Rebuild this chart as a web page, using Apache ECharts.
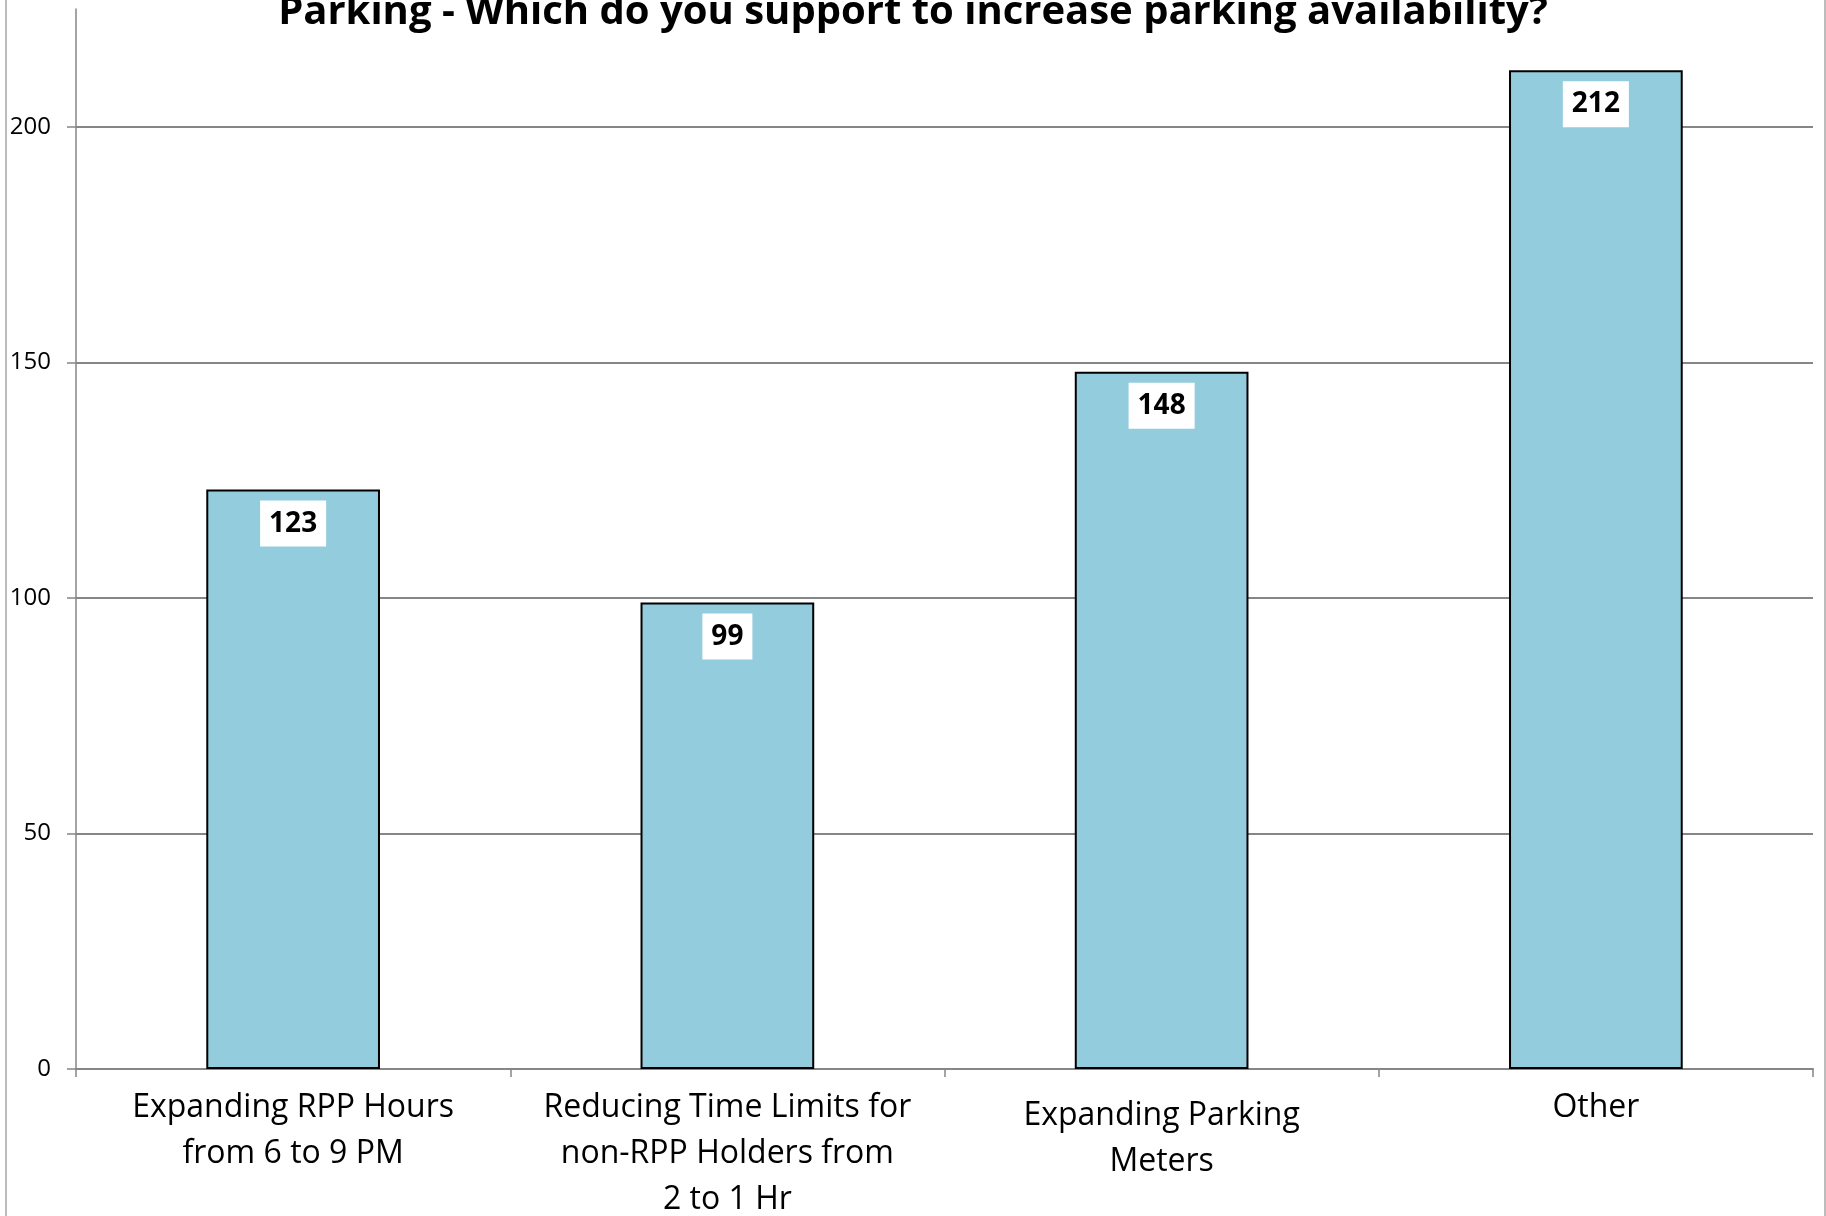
<!DOCTYPE html>
<html>
<head>
<meta charset="utf-8">
<title>Parking</title>
<script src="https://cdn.jsdelivr.net/npm/echarts@6/dist/echarts.min.js"></script>
<style>
    html, body { margin: 0; padding: 0; background: #fff; }
    #chart { width: 1826px; height: 1216px; }
</style>
</head>
<body>
<div id="chart"></div>
<script>
var chartTitle = 'Parking - Which do you support to increase parking availability?';
var categories = [
    'Expanding RPP Hours\nfrom 6 to 9 PM',
    'Reducing Time Limits for\nnon-RPP Holders from\n2 to 1 Hr',
    'Expanding Parking\nMeters',
    'Other'
];
var votes = [123, 99, 148, 212];
var yTicks = [0, 50, 100, 150, 200];

var chart = echarts.init(document.getElementById('chart'));

// the two-line "Expanding Parking" label sits a little lower in the original
var categoryData = categories.map(function(name, i) {
    if (i == 2) {
        return { value: name, textStyle: { padding: [8, 0, 0, 0] } };
    }
    return name;
});

var option = {
    backgroundColor: '#fff',
    animation: false,
    textStyle: { fontFamily: 'Open Sans' },
    title: {
        text: chartTitle,
        left: 'center',
        top: -12,
        textStyle: { fontFamily: 'Open Sans', fontWeight: 'bold', fontSize: 40, color: '#000' }
    },
    // thin frame round the chart area, only the sides are in view
    graphic: [{
        type: 'rect',
        shape: { x: 6, y: -20, width: 1819, height: 1260 },
        style: { fill: 'none', stroke: '#a6a6a6', lineWidth: 1.5 },
        silent: true
    }],
    grid: { left: 76, right: 13, top: 9, bottom: 147, outerBoundsMode: 'none', containLabel: false },
    xAxis: {
        type: 'category',
        data: categoryData,
        axisLine: { lineStyle: { color: '#868686', width: 2 } },
        axisTick: { show: true, length: 8, lineStyle: { color: '#868686', width: 1.5 } },
        axisLabel: {
            interval: 0,
            margin: 16,
            fontFamily: 'Open Sans',
            fontSize: 32,
            lineHeight: 46,
            color: '#000'
        }
    },
    yAxis: {
        type: 'value',
        min: 0,
        max: 225,
        interval: 50,
        axisLine: { show: true, lineStyle: { color: '#868686', width: 1.5 } },
        axisTick: { show: true, length: 9, customValues: yTicks, lineStyle: { color: '#868686', width: 1.5 } },
        axisLabel: {
            customValues: yTicks,
            margin: 25,
            fontFamily: 'Open Sans',
            fontSize: 24,
            color: '#000'
        },
        splitLine: {
            show: true,
            lineStyle: { color: ['#868686', '#868686', '#868686', '#868686', '#868686', 'transparent'], width: 2 }
        }
    },
    series: [{
        type: 'bar',
        data: votes,
        barWidth: '40%',
        itemStyle: { color: '#93CDDD', borderColor: '#000', borderWidth: 2 },
        label: {
            show: true,
            position: 'insideTop',
            distance: 11,
            backgroundColor: '#fff',
            padding: [9, 9, 9, 9],
            fontFamily: 'Open Sans',
            fontWeight: 'bold',
            fontSize: 28,
            color: '#000'
        }
    }]
};
chart.setOption(option);
</script>
</body>
</html>
